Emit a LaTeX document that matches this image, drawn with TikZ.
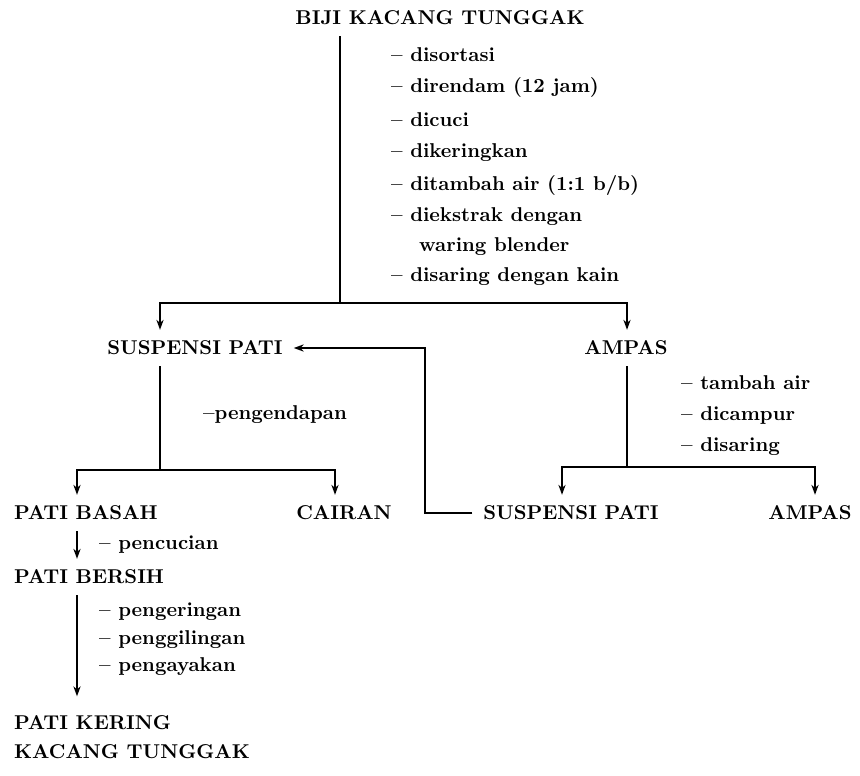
\documentclass[tikz,border=0pt]{standalone}
\usetikzlibrary{arrows.meta,calc}

\tikzset{
  stage/.style={font=\bfseries\fontsize{10}{14.5}\selectfont, inner sep=5pt},
  proc/.style={font=\bfseries\fontsize{10}{12}\selectfont, inner sep=0pt, anchor=west},
}

\begin{document}
\begin{tikzpicture}[x=0.5pt, y=-0.5pt, line width=1.1pt,
    >={Stealth[length=5pt,width=3.6pt]}]
  \useasboundingbox (0,0) rectangle (860,775);

  % Products
  \node[stage] (biji) at (440,18) {BIJI KACANG TUNGGAK};
  \node[stage] (susp1) at (195,348) {SUSPENSI PATI};
  \node[stage] (ampas1) at (626,348) {AMPAS};
  \node[stage, anchor=west] (basah) at (3,513) {PATI BASAH};
  \node[stage] (cairan) at (344,513) {CAIRAN};
  \node[stage] (susp2) at (571,513) {SUSPENSI PATI};
  \node[stage] (ampas2) at (810,513) {AMPAS};
  \node[stage, anchor=west] (bersih) at (3,577) {PATI BERSIH};
  \node[stage, anchor=west, align=left] (kering) at (3,737) {PATI KERING\\KACANG TUNGGAK};

  % Processing steps
  \node[proc] (s1) at (390,55) {-- disortasi};
  \node[proc] (s2) at (390,87) {-- direndam (12 jam)};
  \node[proc] (s3) at (390,120) {-- dicuci};
  \node[proc] (s4) at (390,153) {-- dikeringkan};
  \node[proc] (s5) at (390,186) {-- ditambah air (1:1 b/b)};
  \node[proc] (s6) at (390,217) {-- diekstrak dengan};
  \node[proc] (s7) at (418,247) {waring blender};
  \node[proc] (s8) at (390,277) {-- disaring dengan kain};
  \node[proc] (e1) at (202,415) {--pengendapan};
  \node[proc] (r1) at (680,383) {-- tambah air};
  \node[proc] (r2) at (680,415) {-- dicampur};
  \node[proc] (r3) at (680,447) {-- disaring};
  \node[proc] (c1) at (98,545) {-- pencucian};
  \node[proc] (k1) at (98,612) {-- pengeringan};
  \node[proc] (k2) at (98,640) {-- penggilingan};
  \node[proc] (k3) at (98,667) {-- pengayakan};

  % Branch points
  \coordinate (j1) at (340,303);
  \coordinate (j2) at (160,470);
  \coordinate (j3) at (627,467);
  \coordinate (xb) at (160,0);
  \coordinate (xc) at (627,0);
  \coordinate (xd) at (77,0);
  \coordinate (xe) at (335,0);
  \coordinate (xf) at (425,0);
  \coordinate (xg) at (562,0);
  \coordinate (xh) at (815,0);

  % Connectors
  \draw (j1 |- biji.south) -- (j1);
  \draw[->] (j1) -| (xb |- susp1.north);
  \draw[->] (j1) -| (xc |- ampas1.north);
  \draw (j2 |- susp1.south) -- (j2);
  \draw[->] (j2) -| (xd |- basah.north);
  \draw[->] (j2) -| (xe |- cairan.north);
  \draw (j3 |- ampas1.south) -- (j3);
  \draw[->] (j3) -| (xg |- susp2.north);
  \draw[->] (j3) -| (xh |- ampas2.north);
  \draw[->] (susp2.west) -| (xf |- susp1) -- (susp1.east);
  \draw[->] (xd |- basah.south) -- (xd |- bersih.north);
  \draw[->, shorten >=4pt] (xd |- bersih.south) -- (xd |- kering.north);
\end{tikzpicture}
\end{document}
